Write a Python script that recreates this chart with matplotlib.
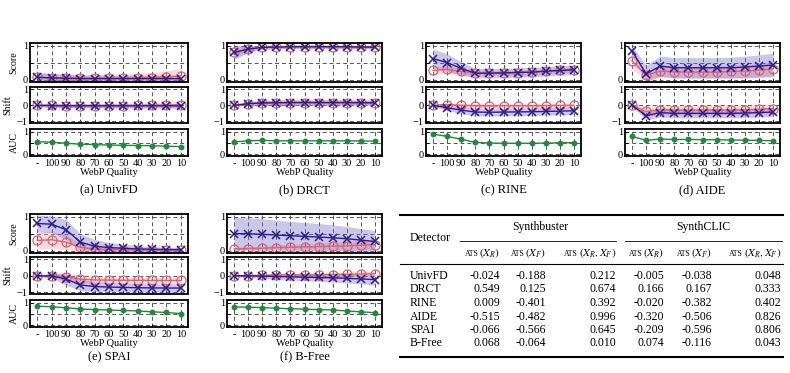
import matplotlib
matplotlib.use('Agg')
import matplotlib.pyplot as plt
from matplotlib.lines import Line2D
from matplotlib.offsetbox import TextArea, HPacker, AnnotationBbox

plt.rcParams['font.family'] = ['Liberation Serif', 'DejaVu Serif']
plt.rcParams['mathtext.fontset'] = 'stix'

quality_labels = ['-', '100', '90', '80', '70', '60', '50', '40', '30', '20', '10']
detectors = ['UnivFD', 'DRCT', 'RINE', 'AIDE', 'SPAI', 'B-Free']
panel_letters = ['a', 'b', 'c', 'd', 'e', 'f']

score_fake = {
    'UnivFD': [0.07, 0.05, 0.04, 0.03, 0.03, 0.03, 0.03, 0.03, 0.03, 0.03, 0.03],
    'DRCT':   [0.80, 0.90, 0.95, 0.96, 0.97, 0.97, 0.97, 0.97, 0.97, 0.96, 0.96],
    'RINE':   [0.62, 0.50, 0.33, 0.19, 0.19, 0.20, 0.21, 0.22, 0.25, 0.27, 0.29],
    'AIDE':   [0.85, 0.17, 0.40, 0.35, 0.35, 0.35, 0.35, 0.35, 0.37, 0.40, 0.43],
    'SPAI':   [0.80, 0.78, 0.62, 0.25, 0.13, 0.09, 0.07, 0.05, 0.04, 0.03, 0.03],
    'B-Free': [0.50, 0.50, 0.48, 0.46, 0.44, 0.42, 0.40, 0.38, 0.35, 0.31, 0.27],
}
score_fake_std = {
    'UnivFD': [0.15, 0.13, 0.12, 0.11, 0.10, 0.10, 0.10, 0.10, 0.10, 0.10, 0.10],
    'DRCT':   [0.20, 0.10, 0.06, 0.05, 0.05, 0.05, 0.05, 0.05, 0.05, 0.05, 0.05],
    'RINE':   [0.28, 0.26, 0.20, 0.14, 0.14, 0.14, 0.14, 0.14, 0.14, 0.14, 0.14],
    'AIDE':   [0.15, 0.25, 0.30, 0.30, 0.30, 0.30, 0.30, 0.31, 0.32, 0.33, 0.35],
    'SPAI':   [0.25, 0.25, 0.30, 0.25, 0.20, 0.15, 0.12, 0.10, 0.08, 0.07, 0.07],
    'B-Free': [0.48, 0.47, 0.46, 0.44, 0.42, 0.41, 0.40, 0.38, 0.36, 0.34, 0.32],
}
score_real = {
    'UnivFD': [0.07, 0.05, 0.04, 0.04, 0.04, 0.04, 0.04, 0.05, 0.06, 0.08, 0.11],
    'DRCT':   [0.80, 0.90, 0.95, 0.96, 0.97, 0.97, 0.97, 0.97, 0.97, 0.96, 0.96],
    'RINE':   [0.27, 0.30, 0.24, 0.19, 0.19, 0.20, 0.21, 0.22, 0.25, 0.27, 0.29],
    'AIDE':   [0.55, 0.13, 0.25, 0.23, 0.22, 0.22, 0.22, 0.24, 0.25, 0.28, 0.32],
    'SPAI':   [0.30, 0.32, 0.25, 0.10, 0.04, 0.03, 0.03, 0.02, 0.02, 0.02, 0.02],
    'B-Free': [0.05, 0.06, 0.07, 0.09, 0.10, 0.11, 0.12, 0.13, 0.14, 0.16, 0.18],
}
score_real_std = {
    'UnivFD': [0.15, 0.12, 0.11, 0.11, 0.11, 0.12, 0.13, 0.14, 0.16, 0.18, 0.22],
    'DRCT':   [0.18, 0.09, 0.05, 0.05, 0.05, 0.05, 0.05, 0.05, 0.05, 0.05, 0.05],
    'RINE':   [0.10, 0.10, 0.09, 0.08, 0.08, 0.08, 0.08, 0.08, 0.08, 0.08, 0.08],
    'AIDE':   [0.25, 0.12, 0.18, 0.18, 0.18, 0.18, 0.18, 0.18, 0.19, 0.20, 0.21],
    'SPAI':   [0.25, 0.25, 0.22, 0.12, 0.08, 0.06, 0.05, 0.05, 0.05, 0.05, 0.05],
    'B-Free': [0.05, 0.06, 0.07, 0.08, 0.09, 0.10, 0.11, 0.12, 0.13, 0.14, 0.15],
}
shift_fake = {
    'UnivFD': [0.0, -0.02, -0.03, -0.03, -0.03, -0.03, -0.03, -0.03, -0.03, -0.03, -0.03],
    'DRCT':   [0.0, 0.10, 0.15, 0.16, 0.17, 0.17, 0.17, 0.17, 0.17, 0.16, 0.16],
    'RINE':   [0.0, -0.15, -0.30, -0.42, -0.43, -0.42, -0.41, -0.40, -0.38, -0.36, -0.34],
    'AIDE':   [0.0, -0.65, -0.45, -0.50, -0.50, -0.50, -0.50, -0.50, -0.48, -0.45, -0.42],
    'SPAI':   [0.0, 0.0, -0.20, -0.55, -0.65, -0.68, -0.70, -0.72, -0.73, -0.74, -0.74],
    'B-Free': [0.0, 0.0, -0.02, -0.04, -0.06, -0.08, -0.10, -0.12, -0.15, -0.19, -0.23],
}
shift_fake_std = {
    'UnivFD': [0.08, 0.12, 0.13, 0.13, 0.13, 0.13, 0.13, 0.13, 0.13, 0.13, 0.13],
    'DRCT':   [0.03, 0.12, 0.16, 0.17, 0.17, 0.17, 0.17, 0.17, 0.17, 0.17, 0.17],
    'RINE':   [0.05, 0.18, 0.22, 0.24, 0.24, 0.24, 0.24, 0.24, 0.24, 0.24, 0.24],
    'AIDE':   [0.05, 0.25, 0.28, 0.28, 0.28, 0.28, 0.28, 0.28, 0.28, 0.28, 0.28],
    'SPAI':   [0.03, 0.15, 0.35, 0.35, 0.30, 0.28, 0.27, 0.26, 0.25, 0.25, 0.25],
    'B-Free': [0.03, 0.10, 0.14, 0.18, 0.20, 0.22, 0.24, 0.26, 0.28, 0.30, 0.32],
}
shift_real = {
    'UnivFD': [0.0, -0.01, -0.02, -0.02, -0.02, -0.02, -0.02, -0.01, 0.0, 0.01, 0.04],
    'DRCT':   [0.0, 0.10, 0.15, 0.16, 0.17, 0.17, 0.17, 0.17, 0.17, 0.16, 0.16],
    'RINE':   [0.0, 0.05, 0.0, -0.03, -0.04, -0.03, -0.03, -0.03, -0.02, -0.01, 0.0],
    'AIDE':   [0.0, -0.38, -0.28, -0.30, -0.30, -0.30, -0.30, -0.30, -0.28, -0.25, -0.20],
    'SPAI':   [0.0, 0.0, -0.05, -0.20, -0.25, -0.26, -0.27, -0.27, -0.28, -0.28, -0.28],
    'B-Free': [0.0, 0.01, 0.02, 0.04, 0.05, 0.06, 0.07, 0.08, 0.09, 0.11, 0.13],
}
shift_real_std = {
    'UnivFD': [0.08, 0.12, 0.13, 0.13, 0.13, 0.14, 0.15, 0.16, 0.18, 0.20, 0.22],
    'DRCT':   [0.03, 0.12, 0.16, 0.17, 0.17, 0.17, 0.17, 0.17, 0.17, 0.17, 0.17],
    'RINE':   [0.05, 0.12, 0.14, 0.15, 0.15, 0.15, 0.15, 0.15, 0.15, 0.15, 0.15],
    'AIDE':   [0.05, 0.30, 0.30, 0.30, 0.30, 0.30, 0.30, 0.30, 0.30, 0.30, 0.30],
    'SPAI':   [0.03, 0.15, 0.22, 0.22, 0.20, 0.20, 0.20, 0.20, 0.20, 0.20, 0.20],
    'B-Free': [0.03, 0.05, 0.07, 0.08, 0.09, 0.10, 0.11, 0.12, 0.13, 0.14, 0.15],
}
auc = {
    'UnivFD': [0.56, 0.54, 0.49, 0.45, 0.43, 0.41, 0.40, 0.39, 0.38, 0.36, 0.34],
    'DRCT':   [0.55, 0.60, 0.62, 0.60, 0.60, 0.60, 0.60, 0.60, 0.60, 0.59, 0.59],
    'RINE':   [0.90, 0.80, 0.67, 0.53, 0.50, 0.49, 0.49, 0.49, 0.50, 0.51, 0.52],
    'AIDE':   [0.80, 0.62, 0.68, 0.66, 0.66, 0.65, 0.65, 0.64, 0.63, 0.62, 0.60],
    'SPAI':   [0.85, 0.83, 0.78, 0.73, 0.70, 0.68, 0.66, 0.64, 0.60, 0.57, 0.52],
    'B-Free': [0.82, 0.81, 0.79, 0.76, 0.74, 0.72, 0.70, 0.68, 0.64, 0.60, 0.56],
}

# Table
table_rows = ['UnivFD', 'DRCT', 'RINE', 'AIDE', 'SPAI', 'B-Free']
table_groups = ['Synthbuster', 'SynthCLIC']
table_sub_args = [r'$(X_R)$', r'$(X_F)$', r'$(X_R, X_F)$'] * 2
table_values = [
    ['-0.024', '-0.188', '0.212', '-0.005', '-0.038', '0.048'],
    ['0.549', '0.125', '0.674', '0.166', '0.167', '0.333'],
    ['0.009', '-0.401', '0.392', '-0.020', '-0.382', '0.402'],
    ['-0.515', '-0.482', '0.996', '-0.320', '-0.506', '0.826'],
    ['-0.066', '-0.566', '0.645', '-0.209', '-0.596', '0.806'],
    ['0.068', '-0.064', '0.010', '0.074', '-0.116', '0.043'],
]

W, H = 790, 373
fig = plt.figure(figsize=(W / 100, H / 100), dpi=100)

BLUE = '#2b1d8f'
BLUE_FILL = '#6b5fc0'
RED = '#e0606e'
RED_FILL = '#f09aa6'
GREEN = '#1f8a3c'


def fx(px):
    return px / W


def fy(py):
    return 1 - py / H


cols = [(30, 188), (227, 382), (426, 581), (625, 780)]
panel_pos = [(0, 0), (0, 1), (0, 2), (0, 3), (1, 0), (1, 1)]
row_boxes = [
    [(43, 82), (87, 123), (129, 156)],
    [(214, 253), (257, 294), (300, 327)],
]
xs = list(range(len(quality_labels)))
TICK_FS = 7.5


def style_axis(ax):
    for s in ax.spines.values():
        s.set_linewidth(1.3)
        s.set_color('black')
    ax.set_xlim(-0.5, len(xs) - 0.5)
    ax.set_xticks(xs)
    ax.grid(True, linestyle=(0, (4, 3)), color='#555555', linewidth=0.7)
    ax.tick_params(direction='in', length=2, width=0.6, labelsize=TICK_FS, pad=1.5)
    ax.tick_params(axis='x', pad=2.5)
    ax.set_axisbelow(True)


def draw_pair(ax, mean_r, std_r, mean_f, std_f):
    for mean, std, col, fc, mk in [
        (mean_r, std_r, RED, RED_FILL, 'o'),
        (mean_f, std_f, BLUE, BLUE_FILL, 'x'),
    ]:
        lo = [m - s for m, s in zip(mean, std)]
        hi = [m + s for m, s in zip(mean, std)]
        ax.fill_between(xs, lo, hi, color=fc, alpha=0.35, linewidth=0)
        if mk == 'o':
            ax.plot(xs, mean, color=col, lw=1.0, marker='o', ms=6.5, mfc='none', mew=0.9)
        else:
            ax.plot(xs, mean, color=col, lw=1.0, marker='x', ms=6, mew=1.1)


for i, det in enumerate(detectors):
    r, c = panel_pos[i]
    left, right = cols[c]
    axes = []
    for (t, b) in row_boxes[r]:
        ax = fig.add_axes([fx(left), fy(b), fx(right - left), (b - t) / H])
        style_axis(ax)
        axes.append(ax)
    ax_s, ax_h, ax_a = axes

    draw_pair(ax_s, score_real[det], score_real_std[det], score_fake[det], score_fake_std[det])
    ax_s.set_ylim(-0.07, 1.08)
    ax_s.set_yticks([0, 0.5, 1])
    ax_s.set_yticklabels(['0', '', '1'])
    ax_s.set_xticklabels([])

    draw_pair(ax_h, shift_real[det], shift_real_std[det], shift_fake[det], shift_fake_std[det])
    ax_h.set_ylim(-1.1, 1.14)
    ax_h.set_yticks([-1, 0, 1])
    ax_h.set_yticklabels(['\u22121', '0', '1'])
    ax_h.set_xticklabels([])

    ax_a.plot(xs, auc[det], color=GREEN, lw=1.0, marker='o', ms=3.2)
    ax_a.set_ylim(-0.08, 1.13)
    ax_a.set_yticks([0, 0.5, 1])
    ax_a.set_yticklabels(['0', '', '1'])
    ax_a.set_xticklabels(quality_labels, fontsize=TICK_FS)
    ax_a.set_xlabel('WebP Quality', fontsize=TICK_FS, labelpad=0)

    if c == 0:
        ax_s.set_ylabel('Score', fontsize=7.2, labelpad=3)
        ax_h.set_ylabel('Shift', fontsize=7.2, labelpad=3)
        ax_a.set_ylabel('AUC', fontsize=7.2, labelpad=3)

    cap_y = 190 if r == 0 else 357
    fig.text(fx((left + right) / 2), fy(cap_y), f'({panel_letters[i]}) {det}',
             ha='center', va='center', fontsize=9)

# ---- Table ----
def hline(x0, x1, y, lw):
    fig.add_artist(Line2D([fx(x0), fx(x1)], [fy(y), fy(y)], color='black', lw=lw,
                          transform=fig.transFigure))

hline(400, 783, 215, 1.5)
hline(460, 616, 241, 0.6)
hline(625, 782, 241, 0.6)
hline(400, 783, 264, 0.8)
hline(400, 783, 357, 1.5)

TFS = 8.5
fig.text(fx(410), fy(238), 'Detector', ha='left', va='center', fontsize=TFS)
fig.text(fx(540), fy(227), table_groups[0], ha='center', va='center', fontsize=TFS)
fig.text(fx(703), fy(227), table_groups[1], ha='center', va='center', fontsize=TFS)

col_right = [500, 546, 616, 664, 712, 781]
for j, arg in enumerate(table_sub_args):
    box = HPacker(children=[TextArea('ATS', textprops=dict(fontsize=5.6)),
                            TextArea(arg, textprops=dict(fontsize=8))],
                  align='baseline', pad=0, sep=0.5)
    ab = AnnotationBbox(box, (fx(col_right[j]), fy(253)), xycoords='figure fraction',
                        box_alignment=(1, 0.5), frameon=False, pad=0)
    fig.add_artist(ab)

row_y = [276, 289.5, 303, 316.5, 330, 343.5]
for k, name in enumerate(table_rows):
    fig.text(fx(410), fy(row_y[k]), name, ha='left', va='center', fontsize=TFS)
    for j, v in enumerate(table_values[k]):
        fig.text(fx(col_right[j]), fy(row_y[k]), v, ha='right', va='center', fontsize=TFS)

fig.savefig('out.png', dpi=100)
